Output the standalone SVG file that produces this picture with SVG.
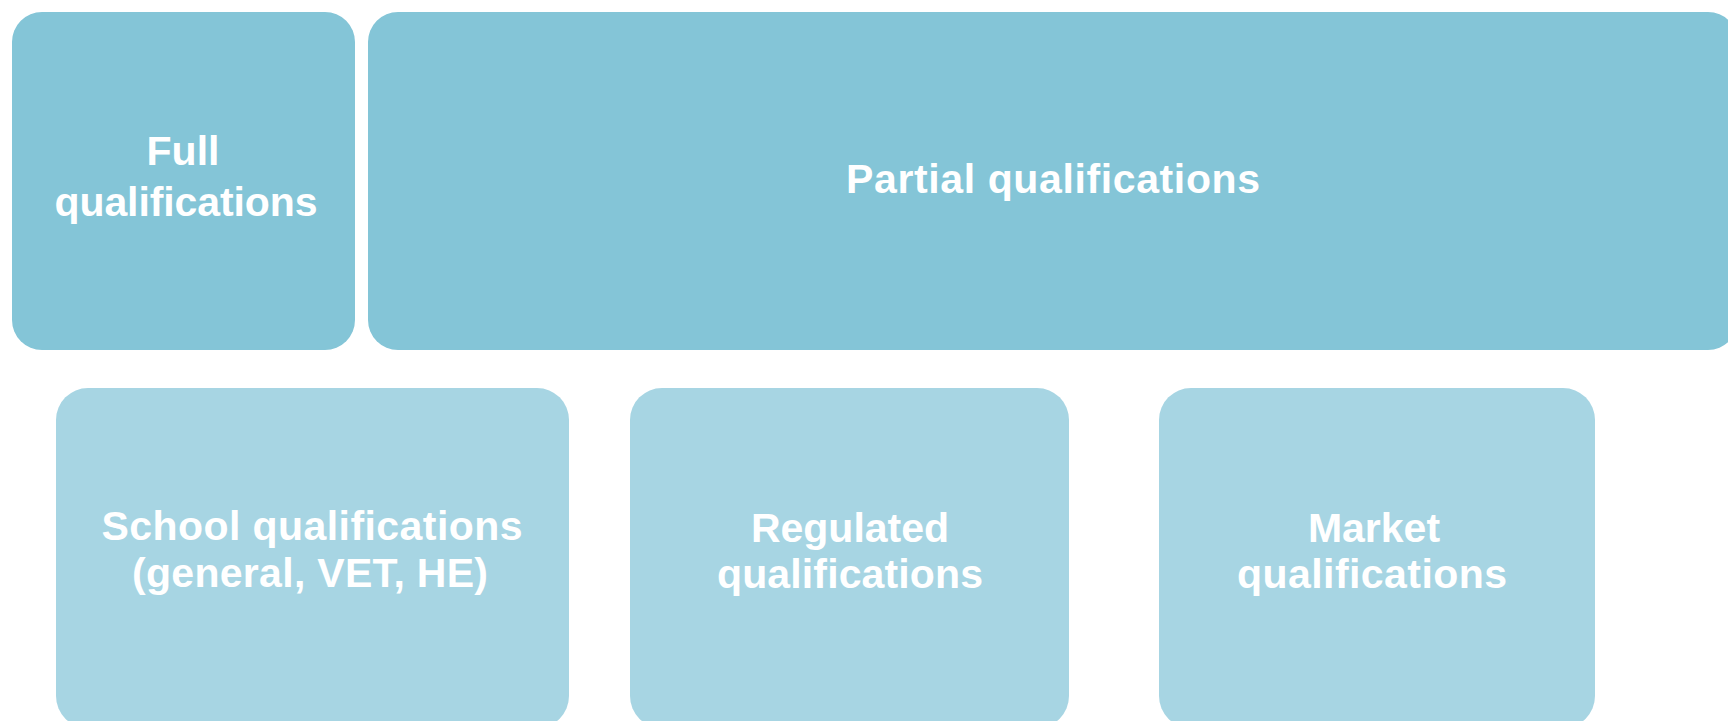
<svg xmlns="http://www.w3.org/2000/svg" width="1728" height="721" viewBox="0 0 1728 721">
<style>
.top{fill:#84C5D7}
.sub{fill:#A7D5E3}
text{font-family:"Liberation Sans",Arial,sans-serif;font-weight:bold;font-size:41px;fill:#FFFFFF;text-anchor:middle}
</style>
<rect width="1728" height="721" fill="#FFFFFF"/>
<g id="connectors"/>
<g id="full">
<rect class="top" x="12" y="12" width="343" height="338" rx="30" ry="30"/>
<text x="183" y="165">Full</text>
<text x="186" y="216" textLength="263" lengthAdjust="spacing">qualifications</text>
</g>
<g id="partial">
<rect class="top" x="368" y="12" width="1370" height="338" rx="30" ry="30"/>
<text x="1053" y="193" textLength="414" lengthAdjust="spacing">Partial qualifications</text>
</g>
<g id="school">
<rect class="sub" x="56" y="388" width="513" height="340" rx="32" ry="32"/>
<text x="312" y="540" textLength="421" lengthAdjust="spacing">School qualifications</text>
<text x="310" y="587" textLength="356" lengthAdjust="spacing">(general, VET, HE)</text>
</g>
<g id="regulated">
<rect class="sub" x="630" y="388" width="439" height="340" rx="32" ry="32"/>
<text x="850" y="542">Regulated</text>
<text x="850" y="588" textLength="266" lengthAdjust="spacing">qualifications</text>
</g>
<g id="market">
<rect class="sub" x="1159" y="388" width="436" height="340" rx="32" ry="32"/>
<text x="1374" y="542">Market</text>
<text x="1372" y="588" textLength="270" lengthAdjust="spacing">qualifications</text>
</g>
</svg>
